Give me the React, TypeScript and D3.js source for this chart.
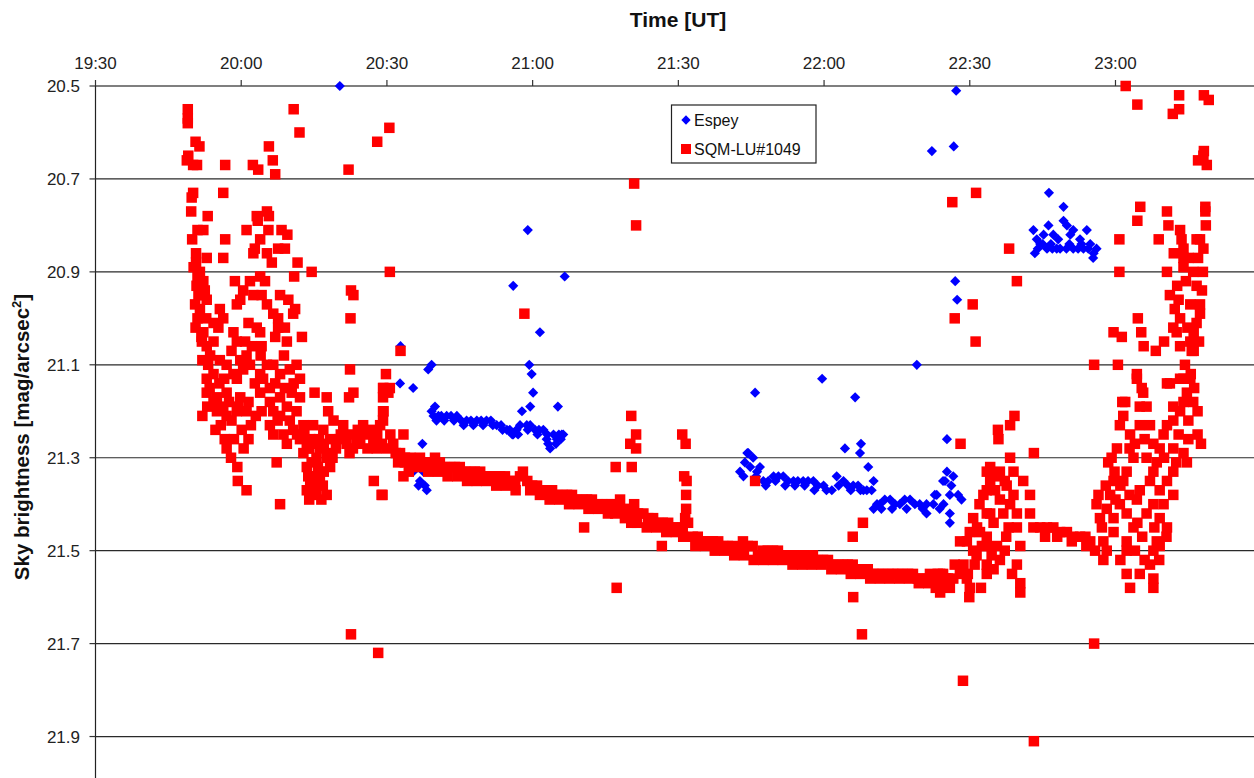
import { useEffect, useRef } from 'react';
import * as d3 from 'd3';

// Time axis labels (UT) and magnitude gridlines
const timeLabels = ['19:30', '20:00', '20:30', '21:00', '21:30', '22:00', '22:30', '23:00'];
const magTicks = [20.5, 20.7, 20.9, 21.1, 21.3, 21.5, 21.7, 21.9];

// All points: [minutes after 19:00 UT, sky brightness mag/arcsec²]

// SQM-LU#1049 — dusk, before the sky settles
const sqmDusk: [number, number][] = [
  [49.0, 20.55], [49.0, 20.57], [49.0, 20.58], [50.6, 20.62], [51.4, 20.63], [49.1, 20.65], [50.1, 20.67], [48.8, 20.66],
  [50.9, 20.67], [56.7, 20.67], [62.4, 20.67], [63.5, 20.68], [65.7, 20.63], [66.5, 20.66], [67.0, 20.69], [70.8, 20.55],
  [72.0, 20.60], [82.1, 20.68], [88.0, 20.62], [90.5, 20.59],
  [50.1, 20.73], [49.8, 20.74], [56.3, 20.73], [49.7, 20.77], [53.1, 20.78], [63.2, 20.78], [65.3, 20.77], [65.7, 20.78],
  [61.1, 20.81], [63.4, 20.79], [65.6, 20.81], [68.3, 20.81], [69.5, 20.82], [51.0, 20.81], [49.9, 20.83], [52.2, 20.81],
  [56.7, 20.83], [63.9, 20.83], [62.8, 20.85], [62.5, 20.86], [67.6, 20.85], [69.0, 20.85], [65.3, 20.86], [66.3, 20.88],
  [56.3, 20.87], [71.6, 20.88], [74.5, 20.90], [70.9, 20.91], [90.6, 20.90],
  [50.7, 20.86], [52.9, 20.87], [50.7, 20.88], [51.5, 20.90], [52.2, 20.92], [50.8, 20.93], [51.9, 20.95], [52.9, 20.96],
  [51.2, 20.95], [58.7, 20.92], [60.4, 20.94], [61.8, 20.92], [63.9, 20.91], [64.9, 20.92], [64.2, 20.95], [62.5, 20.95],
  [59.8, 20.96], [59.1, 20.97], [68.0, 20.95], [69.7, 20.96], [71.1, 20.98], [70.7, 20.99], [65.3, 20.97], [66.6, 20.99],
  [67.6, 21.00], [82.6, 20.94], [83.1, 20.95], [82.5, 21.00], [72.5, 21.04],
  [51.0, 21.00], [55.6, 20.98], [56.3, 21.00], [54.3, 21.01], [55.3, 21.02], [52.2, 21.03], [51.9, 21.05], [52.9, 21.06],
  [54.3, 21.05], [58.4, 21.03], [59.1, 21.05], [60.8, 21.05], [61.5, 21.01], [63.2, 21.02], [63.9, 21.03], [62.2, 21.06],
  [64.2, 21.06], [67.6, 21.02], [69.0, 21.02], [69.4, 21.05], [67.0, 21.04], [68.8, 21.08],
  [53.6, 21.08], [53.2, 21.10], [54.3, 21.12], [52.9, 21.13], [55.6, 21.09], [57.0, 21.10], [58.0, 21.07], [59.8, 21.09],
  [61.1, 21.08], [58.4, 21.12], [60.4, 21.11], [59.1, 21.13], [61.8, 21.10], [63.9, 21.12], [65.3, 21.10], [66.6, 21.10],
  [64.5, 21.13], [65.9, 21.15], [68.0, 21.12], [70.0, 21.11], [71.4, 21.10], [72.1, 21.13], [82.4, 21.11], [89.8, 21.12],
  [52.9, 21.16], [55.0, 21.17], [57.0, 21.16], [54.3, 21.18], [56.3, 21.19], [59.8, 21.17], [61.5, 21.18], [59.4, 21.19],
  [63.9, 21.16], [64.2, 21.20], [65.9, 21.18], [66.6, 21.20], [68.0, 21.17], [70.4, 21.16], [72.1, 21.17], [69.4, 21.19],
  [71.4, 21.20], [68.0, 21.21], [75.1, 21.16], [77.6, 21.17], [77.9, 21.20], [79.0, 21.22], [82.2, 21.17], [83.1, 21.16],
  [89.3, 21.15], [90.6, 21.15],
  [52.0, 21.21], [55.0, 21.20], [57.0, 21.21], [59.1, 21.20], [61.1, 21.20], [54.7, 21.24], [60.1, 21.24], [61.5, 21.26],
  [65.9, 21.23], [66.6, 21.25], [68.7, 21.25], [69.4, 21.27], [70.7, 21.24], [72.1, 21.26], [73.5, 21.28],
  [72.8, 21.23], [74.8, 21.23], [76.9, 21.24], [78.3, 21.26], [74.2, 21.26], [76.2, 21.28], [72.8, 21.29], [75.5, 21.30],
  [77.6, 21.30], [73.5, 21.32], [76.2, 21.33], [78.3, 21.32], [74.2, 21.35], [76.2, 21.35], [73.5, 21.37], [77.6, 21.38],
  [74.8, 21.36],
  [81.0, 21.23], [82.4, 21.25], [83.8, 21.26], [85.1, 21.23], [85.8, 21.25], [87.2, 21.26], [88.6, 21.23], [89.3, 21.20],
  [87.9, 21.28], [90.0, 21.28], [91.3, 21.27], [92.7, 21.29], [93.4, 21.25], [93.7, 21.31], [82.3, 21.29],
  [57.9, 21.30], [59.2, 21.32], [59.3, 21.35], [61.1, 21.37], [67.3, 21.31], [68.0, 21.40], [87.3, 21.35], [88.9, 21.38],
  [82.6, 21.68], [88.2, 21.72],
  [89.2, 21.15], [90.3, 21.16], [89.2, 21.17], [89.2, 21.20], [89.2, 21.22], [92.8, 21.07], [89.1, 21.38], [93.4, 21.34],
];

// SQM-LU#1049 — where the dusk readings pile up densely
const sqmDuskDense: [number, number][] = [
  [50.2, 20.89], [51.0, 20.91], [52.5, 20.94], [50.5, 20.97], [51.5, 20.98], [52.8, 21.00], [50.6, 21.02], [51.8, 21.04],
  [52.0, 21.09], [53.5, 21.15], [55.5, 21.14], [56.5, 21.13], [57.5, 21.18], [53.0, 21.19], [55.8, 21.23], [56.6, 21.26],
  [58.0, 21.22], [57.0, 21.28], [58.5, 21.26], [62.8, 21.14], [64.0, 21.08], [67.0, 21.14], [69.0, 21.15], [70.8, 21.14],
  [73.0, 21.25], [74.0, 21.28], [75.0, 21.27], [76.0, 21.26], [77.0, 21.27], [78.0, 21.29], [74.5, 21.31], [75.8, 21.32],
  [77.0, 21.33], [73.8, 21.34], [75.0, 21.34], [76.8, 21.36], [75.5, 21.38], [76.5, 21.39], [74.0, 21.39], [78.8, 21.30],
  [79.5, 21.28], [80.2, 21.26], [80.5, 21.25], [81.7, 21.27], [83.0, 21.28], [84.5, 21.27], [86.0, 21.28], [86.8, 21.24],
  [88.0, 21.25], [89.0, 21.27], [90.7, 21.25], [91.8, 21.29], [92.3, 21.31], [84.0, 21.24], [70.0, 21.22], [71.5, 21.25],
  [67.5, 21.22], [63.0, 21.21], [62.0, 21.23], [60.5, 21.28],
];

// SQM-LU#1049 — the slow darkening trail (upper edge)
const sqmTrail: [number, number][] = [
  [93.7, 21.30], [94.8, 21.30], [95.8, 21.31], [96.8, 21.30], [97.8, 21.31], [98.9, 21.31], [99.9, 21.30], [100.9, 21.31],
  [101.9, 21.32], [103.0, 21.32], [104.0, 21.32], [105.0, 21.32], [106.1, 21.33], [107.1, 21.33], [108.1, 21.33], [109.2, 21.33],
  [110.2, 21.34], [111.2, 21.34], [112.3, 21.34], [113.3, 21.34], [114.3, 21.34], [115.3, 21.35], [116.4, 21.35], [117.4, 21.34],
  [118.0, 21.33], [118.9, 21.35], [119.9, 21.36], [120.9, 21.36], [122.0, 21.37], [123.0, 21.37], [124.0, 21.37], [125.0, 21.38],
  [126.1, 21.38], [127.1, 21.38], [128.1, 21.38], [129.1, 21.39], [130.2, 21.39], [131.2, 21.39], [132.2, 21.39], [133.3, 21.40],
  [134.3, 21.40], [135.3, 21.40], [136.3, 21.40], [137.4, 21.40], [138.0, 21.39], [138.8, 21.41], [139.6, 21.42], [140.3, 21.44],
  [140.9, 21.40], [141.7, 21.42], [142.8, 21.42], [143.8, 21.43], [144.8, 21.43], [145.8, 21.44], [146.8, 21.44], [147.9, 21.44],
  [148.9, 21.45], [149.9, 21.45], [150.9, 21.45], [152.0, 21.44], [153.0, 21.47], [154.0, 21.47], [155.1, 21.48], [156.1, 21.48],
  [157.1, 21.48], [158.2, 21.48], [159.2, 21.49], [160.2, 21.49], [161.2, 21.49], [162.3, 21.50], [163.3, 21.48], [164.3, 21.49],
  [165.3, 21.49], [166.4, 21.51], [167.4, 21.50], [168.4, 21.50], [169.5, 21.50], [170.5, 21.50], [171.5, 21.51], [172.6, 21.51],
  [173.6, 21.51], [174.6, 21.51], [175.7, 21.51], [176.7, 21.51], [177.7, 21.51], [178.7, 21.52], [179.8, 21.52], [180.8, 21.52],
  [181.8, 21.53], [182.9, 21.53], [183.9, 21.53], [184.9, 21.53], [185.9, 21.53], [187.0, 21.54], [188.0, 21.54], [189.0, 21.54],
  [190.1, 21.55], [191.1, 21.55], [192.1, 21.55], [193.2, 21.55], [194.2, 21.55], [195.2, 21.55], [196.2, 21.55], [197.3, 21.55],
  [198.3, 21.55], [199.3, 21.56], [200.4, 21.56], [201.4, 21.56], [202.4, 21.56], [203.4, 21.55], [204.5, 21.55], [205.5, 21.56],
];

// SQM-LU#1049 — the trail's lower edge
const sqmTrailLow: [number, number][] = [
  [94.5, 21.33], [96.5, 21.32], [98.5, 21.33], [100.5, 21.33], [102.5, 21.34], [104.5, 21.34], [106.5, 21.35], [108.5, 21.35],
  [110.5, 21.35], [112.5, 21.36], [114.5, 21.36], [116.5, 21.37], [119.5, 21.37], [121.5, 21.38], [123.5, 21.39], [125.5, 21.39],
  [127.5, 21.40], [129.5, 21.40], [131.5, 21.41], [133.5, 21.41], [135.5, 21.42], [137.0, 21.42], [139.0, 21.43], [141.5, 21.44],
  [143.5, 21.45], [145.5, 21.45], [147.5, 21.46], [149.5, 21.46], [151.0, 21.47], [153.5, 21.49], [155.5, 21.49], [157.5, 21.50],
  [159.5, 21.50], [161.5, 21.51], [163.5, 21.51], [165.5, 21.52], [167.5, 21.52], [169.5, 21.52], [171.5, 21.52], [173.5, 21.53],
  [175.5, 21.53], [177.5, 21.53], [179.5, 21.53], [181.5, 21.54], [183.5, 21.54], [185.5, 21.55], [187.5, 21.55], [189.5, 21.56],
  [191.5, 21.56], [193.5, 21.56], [195.5, 21.56], [197.5, 21.56], [199.5, 21.57], [201.5, 21.57], [203.5, 21.57], [205.0, 21.57],
];

// SQM-LU#1049 — scattered readings along the night
const sqmScatter: [number, number][] = [
  [118.3, 20.99], [140.9, 20.71], [141.3, 20.80], [140.3, 21.21], [141.3, 21.25], [140.1, 21.27], [141.3, 21.28], [137.1, 21.32],
  [140.4, 21.32], [150.8, 21.25], [151.5, 21.27], [151.2, 21.34], [151.7, 21.35], [151.6, 21.38], [151.6, 21.41], [151.4, 21.43],
  [130.6, 21.45], [146.6, 21.49], [137.3, 21.58], [165.8, 21.35], [188.0, 21.44], [185.9, 21.47], [186.0, 21.60], [187.8, 21.68],
  [208.6, 21.78], [223.2, 21.91], [235.6, 21.70],
];

// SQM-LU#1049 — turbulent end of the night
const sqmLate: [number, number][] = [
  [213.5, 21.33], [214.2, 21.35], [212.8, 21.38], [214.2, 21.42], [210.7, 21.43], [212.1, 21.46], [209.4, 21.48], [213.5, 21.49],
  [211.4, 21.51], [208.7, 21.53], [214.9, 21.54], [209.4, 21.56], [213.5, 21.55], [208.0, 21.55], [205.9, 21.58], [206.6, 21.56],
  [203.9, 21.55], [203.9, 21.59], [201.8, 21.55], [208.0, 21.54], [215.6, 21.34], [218.3, 21.30], [219.0, 21.33], [217.6, 21.36],
  [213.5, 21.37], [216.2, 21.39], [219.0, 21.38], [219.7, 21.42], [213.5, 21.42], [210.0, 21.46], [208.0, 21.48], [213.5, 21.47],
  [215.6, 21.49], [210.7, 21.50], [213.5, 21.53], [216.2, 21.52], [219.7, 21.45], [220.4, 21.49], [219.7, 21.53], [220.4, 21.57],
  [222.4, 21.38], [222.4, 21.42], [223.1, 21.45], [219.2, 21.21], [218.3, 21.23], [215.8, 21.24], [215.9, 21.26], [223.2, 21.29],
  [208.1, 21.27], [209.9, 21.60],
  [214.2, 21.32], [216.2, 21.33], [217.2, 21.35], [215.2, 21.37], [218.3, 21.40], [216.9, 21.42], [214.9, 21.44], [218.0, 21.45],
  [212.5, 21.49], [214.5, 21.51], [217.2, 21.50], [218.7, 21.55], [220.4, 21.59], [211.0, 21.53], [209.6, 21.55], [206.9, 21.53],
  [205.1, 21.56], [203.0, 21.58], [210.0, 21.58], [212.3, 21.58], [211.5, 21.45], [212.0, 21.40], [217.5, 21.47], [221.0, 21.35],
  [224.5, 21.45], [225.9, 21.45], [227.2, 21.45], [228.6, 21.46], [230.0, 21.46], [231.3, 21.47], [232.7, 21.47], [233.8, 21.47],
  [234.8, 21.48], [235.8, 21.50], [225.5, 21.47], [228.0, 21.47], [231.0, 21.48], [234.0, 21.49],
  [236.1, 21.40], [236.8, 21.43], [237.2, 21.45], [237.5, 21.48], [238.9, 21.38], [239.6, 21.35], [239.2, 21.30], [240.3, 21.28],
  [240.9, 21.23], [241.6, 21.21], [242.0, 21.18], [244.4, 21.13], [245.4, 21.15], [245.7, 21.16], [245.0, 21.19], [246.4, 21.19],
  [247.1, 21.23], [245.0, 21.23], [242.9, 21.28], [243.7, 21.30], [242.3, 21.33], [241.6, 21.35], [242.9, 21.38], [245.0, 21.37],
  [247.1, 21.35], [247.8, 21.33], [246.4, 21.30], [249.1, 21.28], [247.8, 21.27], [249.9, 21.25], [250.6, 21.23], [251.9, 21.22],
  [253.3, 21.20], [254.0, 21.18], [254.7, 21.16], [254.0, 21.13], [255.5, 21.12], [256.2, 21.15], [256.9, 21.20], [256.9, 21.25],
  [257.6, 21.27], [254.0, 21.29], [254.7, 21.31], [251.9, 21.33], [250.6, 21.35], [249.1, 21.37], [251.9, 21.28], [251.2, 21.14],
  [253.3, 21.13], [251.9, 21.19], [238.2, 21.41], [239.6, 21.43], [240.9, 21.40], [242.3, 21.42], [244.4, 21.39], [243.7, 21.45],
  [246.4, 21.42], [247.8, 21.40], [249.1, 21.43], [250.6, 21.45], [248.5, 21.48], [247.8, 21.50], [249.1, 21.49], [247.1, 21.53],
  [247.8, 21.56], [247.8, 21.58], [242.3, 21.48], [242.3, 21.50], [242.3, 21.55], [243.0, 21.58], [245.0, 21.55], [249.9, 21.40],
  [251.9, 21.38], [238.2, 21.50], [239.6, 21.46],
  [238.5, 21.31], [239.8, 21.33], [241.0, 21.36], [240.0, 21.39], [238.0, 21.36], [243.0, 21.25], [244.0, 21.27], [246.0, 21.26],
  [248.5, 21.31], [250.0, 21.30], [252.5, 21.31], [253.0, 21.25], [255.0, 21.22], [256.0, 21.18], [255.0, 21.26], [248.0, 21.45],
  [245.5, 21.47], [244.0, 21.50], [250.5, 21.47], [246.0, 21.52], [249.0, 21.52], [241.0, 21.52], [244.5, 21.44], [236.5, 21.38],
  [237.5, 21.52],
  [240.8, 20.83], [240.8, 20.90], [244.5, 20.79], [245.1, 20.76], [248.9, 20.83], [250.6, 20.77], [250.9, 20.80], [250.6, 20.90],
  [253.3, 20.81], [253.6, 20.83], [254.0, 20.85], [254.0, 20.87], [254.0, 20.89], [256.7, 20.83], [258.1, 20.85], [257.4, 20.83],
  [258.5, 20.76], [258.5, 20.77], [258.0, 20.90], [252.7, 20.93], [251.2, 20.95], [256.7, 20.93], [257.8, 20.94], [252.2, 20.98],
  [253.3, 21.00], [251.9, 21.02], [252.6, 21.03], [255.4, 20.97], [257.4, 20.97], [257.4, 20.99], [256.7, 21.01], [256.1, 21.03],
  [255.4, 21.05], [256.1, 21.07], [253.3, 21.06], [244.6, 21.00], [245.3, 21.03], [239.6, 21.03], [241.3, 21.04], [245.8, 21.06],
  [248.3, 21.07], [255.7, 21.07], [254.3, 21.10], [255.4, 21.13], [250.6, 21.14], [244.4, 21.12], [241.4, 21.18], [235.6, 21.10],
  [240.5, 21.10], [254.5, 20.92], [256.0, 20.90], [255.0, 20.87], [257.0, 20.87], [258.6, 20.80], [252.0, 20.86], [253.0, 20.96],
  [257.2, 21.05], [254.8, 21.02], [250.0, 21.05],
  [242.1, 20.50], [244.5, 20.54], [253.1, 20.52], [253.1, 20.55], [251.8, 20.56], [258.2, 20.52], [259.2, 20.53], [258.2, 20.64],
  [257.0, 20.66], [258.8, 20.67], [258.1, 20.65],
  [206.4, 20.75], [211.3, 20.73], [218.1, 20.85], [219.7, 20.92], [210.6, 20.97], [206.9, 21.00], [211.2, 21.05],
];

// Espey readings
const espeyEarly: [number, number][] = [
  [80.3, 20.50], [92.8, 21.06], [92.7, 21.14], [95.4, 21.15], [98.5, 21.11], [99.2, 21.10], [97.3, 21.27],
  [95.4, 21.33], [96.8, 21.35], [98.2, 21.37], [97.5, 21.33], [96.2, 21.32], [97.8, 21.36], [95.0, 21.33], [96.5, 21.36],
  [99.2, 21.20], [99.9, 21.19], [100.6, 21.21], [101.2, 21.21], [102.3, 21.21], [103.2, 21.21], [104.4, 21.21], [105.3, 21.22],
  [106.4, 21.22], [107.3, 21.22], [108.5, 21.22], [109.4, 21.22], [110.5, 21.22], [111.4, 21.22], [112.6, 21.23], [113.5, 21.23],
  [114.7, 21.24], [115.3, 21.24], [116.0, 21.25], [116.7, 21.24], [117.4, 21.23], [118.8, 21.23], [119.5, 21.23], [120.5, 21.24],
  [121.3, 21.24], [122.2, 21.24], [122.9, 21.26], [123.0, 21.25], [123.6, 21.28], [124.3, 21.25], [125.0, 21.26], [125.4, 21.25],
  [126.0, 21.25], [126.3, 21.25],
  [99.6, 21.21], [100.2, 21.22], [101.8, 21.22], [103.8, 21.22], [105.8, 21.23], [107.8, 21.23], [109.8, 21.23], [111.8, 21.23],
  [113.8, 21.24], [115.8, 21.25], [117.0, 21.25], [119.0, 21.24], [121.0, 21.25], [123.2, 21.27], [124.8, 21.27], [125.8, 21.26],
  [117.8, 21.20], [119.5, 21.19], [120.1, 21.16], [119.8, 21.12], [119.3, 21.10], [125.2, 21.19], [119.0, 20.81], [126.6, 20.91],
  [116.0, 20.93], [121.5, 21.03],
];

const espeyMid: [number, number][] = [
  [165.8, 21.16], [179.6, 21.13], [186.4, 21.17], [199.1, 21.10], [184.3, 21.28], [187.6, 21.27], [187.4, 21.29], [189.1, 21.32],
  [190.2, 21.35], [205.3, 21.26],
  [162.7, 21.33], [163.4, 21.34], [163.7, 21.31], [164.2, 21.29], [164.4, 21.29], [165.4, 21.30], [166.2, 21.33], [166.8, 21.32],
  [167.5, 21.35], [168.5, 21.35], [169.6, 21.34], [170.6, 21.34], [171.6, 21.34], [172.6, 21.35], [173.7, 21.35], [174.6, 21.35],
  [175.7, 21.35], [176.7, 21.35], [177.8, 21.35], [178.7, 21.36], [179.9, 21.36], [181.6, 21.37], [182.6, 21.34], [184.0, 21.35],
  [184.9, 21.36], [186.0, 21.36], [187.0, 21.36], [188.1, 21.37], [188.8, 21.37], [189.8, 21.37],
  [164.8, 21.32], [166.0, 21.34], [168.0, 21.36], [170.0, 21.35], [172.0, 21.36], [174.0, 21.36], [176.0, 21.36], [178.0, 21.37],
  [180.5, 21.37], [183.0, 21.36], [185.5, 21.37], [187.5, 21.37],
  [190.2, 21.41], [190.9, 21.40], [191.5, 21.40], [192.5, 21.39], [193.6, 21.39], [194.6, 21.40], [195.6, 21.40], [196.6, 21.39],
  [197.7, 21.39], [198.7, 21.40], [199.7, 21.40], [201.1, 21.42], [201.1, 21.40], [202.5, 21.40], [202.8, 21.38], [203.2, 21.38],
  [204.5, 21.35], [204.6, 21.40], [204.9, 21.35], [205.3, 21.33], [205.9, 21.38], [206.6, 21.34], [207.6, 21.38], [208.3, 21.39],
  [205.9, 21.42], [205.9, 21.44], [191.8, 21.41], [194.0, 21.41], [197.0, 21.41], [200.3, 21.41], [203.8, 21.41], [206.2, 21.36],
];

const espeyLate: [number, number][] = [
  [207.0, 20.92], [207.4, 20.96], [207.2, 20.51], [202.2, 20.64], [206.7, 20.63], [226.3, 20.73], [229.3, 20.76], [229.3, 20.79],
  [223.1, 20.81], [223.8, 20.83], [223.4, 20.86], [224.5, 20.84], [225.2, 20.82], [225.9, 20.85], [226.2, 20.80], [226.7, 20.84],
  [227.2, 20.82], [227.9, 20.85], [228.2, 20.83], [228.6, 20.85], [229.9, 20.85], [230.0, 20.80], [230.7, 20.82], [231.3, 20.81],
  [231.3, 20.85], [232.3, 20.85], [232.7, 20.83], [233.4, 20.85], [234.1, 20.81], [234.4, 20.85], [234.8, 20.84], [235.4, 20.87],
  [236.1, 20.85], [224.0, 20.85], [225.0, 20.84], [227.0, 20.85], [230.5, 20.84], [233.0, 20.84], [235.5, 20.86],
];

const sqmSeries = [sqmDusk, sqmDuskDense, sqmTrail, sqmTrailLow, sqmScatter, sqmLate];
const espeySeries = [espeyEarly, espeyMid, espeyLate];

const toMinutes = (label: string) => {
  const [h, m] = label.split(':').map(Number);
  return (h - 19) * 60 + m;
};

const App = () => {
  const svgRef = useRef<SVGSVGElement | null>(null);

  useEffect(() => {
    if (!svgRef.current) return;
    const svg = d3.select(svgRef.current);
    svg.selectAll('*').remove();

    const width = 1254;
    const height = 778;
    const left = 95.5;
    const top = 86;

    const x = d3.scaleLinear().domain([30, 270]).range([left, left + 1165.7]);
    const y = d3.scaleLinear().domain([20.5, 22.0]).range([top, top + 697]);

    svg.append('rect').attr('width', width).attr('height', height).attr('fill', '#fff');

    // horizontal gridlines
    svg.append('g')
      .selectAll('line')
      .data(magTicks.slice(1))
      .join('line')
      .attr('x1', left)
      .attr('x2', width)
      .attr('y1', (d) => y(d))
      .attr('y2', (d) => y(d))
      .attr('stroke', '#2a2a2a')
      .attr('stroke-width', 1.2);

    // top time axis
    svg.append('line')
      .attr('x1', left).attr('x2', width)
      .attr('y1', top).attr('y2', top)
      .attr('stroke', '#555').attr('stroke-width', 1.6);

    svg.append('g')
      .selectAll('line')
      .data(timeLabels)
      .join('line')
      .attr('x1', (d) => x(toMinutes(d)))
      .attr('x2', (d) => x(toMinutes(d)))
      .attr('y1', top - 6)
      .attr('y2', top)
      .attr('stroke', '#333')
      .attr('stroke-width', 1.2);

    svg.append('g')
      .selectAll('text')
      .data(timeLabels)
      .join('text')
      .attr('x', (d) => x(toMinutes(d)))
      .attr('y', 69)
      .attr('text-anchor', 'middle')
      .attr('font-family', 'Liberation Sans, Arial, sans-serif')
      .attr('font-size', 17)
      .attr('fill', '#222')
      .text((d) => d);

    // left magnitude axis
    svg.append('line')
      .attr('x1', left).attr('x2', left)
      .attr('y1', top).attr('y2', height)
      .attr('stroke', '#222').attr('stroke-width', 1.2);

    svg.append('g')
      .selectAll('line')
      .data(magTicks)
      .join('line')
      .attr('x1', left - 6)
      .attr('x2', left)
      .attr('y1', (d) => y(d))
      .attr('y2', (d) => y(d))
      .attr('stroke', '#333')
      .attr('stroke-width', 1.2);

    svg.append('g')
      .selectAll('text')
      .data(magTicks)
      .join('text')
      .attr('x', 80)
      .attr('y', (d) => y(d))
      .attr('dy', '0.36em')
      .attr('text-anchor', 'end')
      .attr('font-family', 'Liberation Sans, Arial, sans-serif')
      .attr('font-size', 17)
      .attr('fill', '#222')
      .text((d) => d.toFixed(1));

    // axis titles
    svg.append('text')
      .attr('x', 678)
      .attr('y', 27)
      .attr('text-anchor', 'middle')
      .attr('font-family', 'Liberation Sans, Arial, sans-serif')
      .attr('font-size', 21)
      .attr('font-weight', 'bold')
      .attr('fill', '#111')
      .text('Time [UT]');

    const yTitle = svg.append('text')
      .attr('transform', 'translate(29,437) rotate(-90)')
      .attr('text-anchor', 'middle')
      .attr('font-family', 'Liberation Sans, Arial, sans-serif')
      .attr('font-size', 20.5)
      .attr('font-weight', 'bold')
      .attr('fill', '#111');
    yTitle.append('tspan').text('Sky brightness [mag/arcsec');
    yTitle.append('tspan').attr('dy', -8).attr('font-size', 13).text('2');
    yTitle.append('tspan').attr('dy', 8).text(']');

    // Espey diamonds (drawn first, SQM on top)
    const diamond = 7.2;
    espeySeries.forEach((series) => {
      svg.append('g')
        .selectAll('rect')
        .data(series)
        .join('rect')
        .attr('x', -diamond / 2)
        .attr('y', -diamond / 2)
        .attr('width', diamond)
        .attr('height', diamond)
        .attr('transform', (d) => `translate(${x(d[0])},${y(d[1])}) rotate(45)`)
        .attr('fill', '#0000ff');
    });

    // SQM squares
    const sq = 10.5;
    sqmSeries.forEach((series) => {
      svg.append('g')
        .selectAll('rect')
        .data(series)
        .join('rect')
        .attr('x', (d) => x(d[0]) - sq / 2)
        .attr('y', (d) => y(d[1]) - sq / 2)
        .attr('width', sq)
        .attr('height', sq)
        .attr('fill', '#ff0000');
    });

    // legend
    const legend = svg.append('g');
    legend.append('rect')
      .attr('x', 671.5).attr('y', 105)
      .attr('width', 144.5).attr('height', 58)
      .attr('fill', '#fff')
      .attr('stroke', '#222')
      .attr('stroke-width', 1.2);
    legend.append('rect')
      .attr('x', -3.3).attr('y', -3.3)
      .attr('width', 6.6).attr('height', 6.6)
      .attr('transform', 'translate(686,120) rotate(45)')
      .attr('fill', '#0000ff');
    legend.append('rect')
      .attr('x', 681).attr('y', 144)
      .attr('width', 10).attr('height', 10)
      .attr('fill', '#ff0000');
    [['Espey', 126], ['SQM-LU#1049', 155]].forEach(([label, ty]) => {
      legend.append('text')
        .attr('x', 694)
        .attr('y', ty as number)
        .attr('font-family', 'Liberation Sans, Arial, sans-serif')
        .attr('font-size', 16)
        .attr('fill', '#111')
        .text(label as string);
    });
  }, []);

  return (
    <div style={{ position: 'absolute', left: 0, top: 0 }}>
      <svg ref={svgRef} width={1254} height={778} style={{ display: 'block' }}></svg>
    </div>
  );
};

export default App;
